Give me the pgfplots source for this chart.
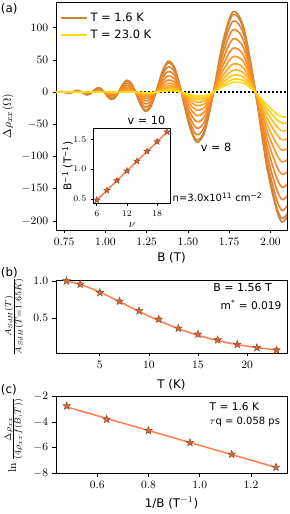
\documentclass[border=0pt]{standalone}
\usepackage[no-math]{fontspec}
\setmainfont{DejaVu Sans}
\usepackage{pgfplots}
\pgfplotsset{compat=1.18}
\usepackage{pgfplotstable}

\definecolor{c1}{RGB}{200,135,55}
\definecolor{c2}{RGB}{212,133,50}
\definecolor{c3}{RGB}{225,132,45}
\definecolor{c4}{RGB}{238,132,42}
\definecolor{c5}{RGB}{250,133,40}
\definecolor{c6}{RGB}{255,140,38}
\definecolor{c7}{RGB}{255,152,35}
\definecolor{c8}{RGB}{255,165,32}
\definecolor{c9}{RGB}{255,178,30}
\definecolor{c10}{RGB}{255,192,28}
\definecolor{c11}{RGB}{255,205,25}
\definecolor{c12}{RGB}{255,218,20}
\definecolor{fitc}{RGB}{255,127,80}
\definecolor{starf}{RGB}{214,110,60}
\definecolor{stard}{RGB}{150,70,40}

\pgfdeclareplotmark{fstar}{%
 \pgfpathmoveto{\pgfpointpolar{90}{\pgfplotmarksize}}%
 \pgfpathlineto{\pgfpointpolar{126}{0.4\pgfplotmarksize}}%
 \pgfpathlineto{\pgfpointpolar{162}{\pgfplotmarksize}}%
 \pgfpathlineto{\pgfpointpolar{198}{0.4\pgfplotmarksize}}%
 \pgfpathlineto{\pgfpointpolar{234}{\pgfplotmarksize}}%
 \pgfpathlineto{\pgfpointpolar{270}{0.4\pgfplotmarksize}}%
 \pgfpathlineto{\pgfpointpolar{306}{\pgfplotmarksize}}%
 \pgfpathlineto{\pgfpointpolar{342}{0.4\pgfplotmarksize}}%
 \pgfpathlineto{\pgfpointpolar{18}{\pgfplotmarksize}}%
 \pgfpathlineto{\pgfpointpolar{54}{0.4\pgfplotmarksize}}%
 \pgfpathclose\pgfusepathqfillstroke}

\pgfplotstableread{
B t1 t2 t3 t4 t5 t6 t7 t8 t9 t10 t11 t12
0.6992 -0.5 -0.4 -0.3 -0.1 -0.1 0 0 0 0 0 0 0
0.7091 0 0 0 0 0 0 0 0 0 0 0 0
0.7194 0.6 0.5 0.3 0.2 0.1 0 0 0 0 0 0 0
0.7300 1.0 0.8 0.5 0.3 0.2 0.1 0 0 0 0 0 0
0.7409 0.8 0.7 0.4 0.2 0.1 0.1 0 0 0 0 0 0
0.7521 0 0 0 0 0 0 0 0 0 0 0 0
0.7637 -1.0 -0.9 -0.6 -0.3 -0.2 -0.1 0 0 0 0 0 0
0.7756 -1.7 -1.4 -0.9 -0.5 -0.3 -0.2 0 0 0 0 0 0
0.7879 -1.3 -1.1 -0.7 -0.4 -0.2 -0.1 0 0 0 0 0 0
0.8006 0 0 0 0 0 0 0 0 0 0 0 0
0.8138 1.7 1.4 1.0 0.6 0.3 0.2 0.1 0 0 0 0 0
0.8273 2.7 2.3 1.6 1.0 0.6 0.3 0.2 0.1 0 0 0 0
0.8414 2.2 1.8 1.3 0.8 0.5 0.3 0.1 0.1 0 0 0 0
0.8559 0 0 0 0 0 0 0 0 0 0 0 0
0.8709 -2.7 -2.4 -1.7 -1.1 -0.7 -0.4 -0.2 -0.1 0 0 0 0
0.8864 -4.4 -3.8 -2.7 -1.8 -1.1 -0.6 -0.4 -0.2 -0.1 0 0 0
0.9025 -3.5 -3.0 -2.2 -1.5 -0.9 -0.5 -0.3 -0.2 -0.1 0 0 0
0.9193 0 0 0 0 0 0 0 0 0 0 0 0
0.9366 4.4 3.9 2.9 2.0 1.2 0.8 0.4 0.3 0.1 0 0 0
0.9546 7.1 6.2 4.7 3.2 2.1 1.3 0.7 0.4 0.2 0.1 0.1 0
0.9733 5.6 5.0 3.8 2.6 1.7 1.1 0.6 0.4 0.2 0.1 0.1 0
0.9928 0 0 0 0 0 0 0 0 0 0 0 0
1.0131 -7.2 -6.4 -5.0 -3.5 -2.4 -1.5 -0.9 -0.6 -0.3 -0.2 -0.1 -0.1
1.0342 -11.4 -10.3 -8.0 -5.8 -3.9 -2.5 -1.6 -1.0 -0.6 -0.3 -0.2 -0.1
1.0562 -9.1 -8.2 -6.5 -4.7 -3.2 -2.1 -1.3 -0.8 -0.5 -0.3 -0.2 -0.1
1.0791 0 0 0 0 0 0 0 0 0 0 0 0
1.1031 11.6 10.6 8.5 6.3 4.4 3.0 1.9 1.2 0.8 0.5 0.3 0.2
1.1282 18.4 16.9 13.7 10.3 7.3 4.9 3.2 2.1 1.3 0.8 0.5 0.3
1.1544 14.7 13.5 11.1 8.4 6.0 4.1 2.8 1.8 1.2 0.7 0.5 0.3
1.1819 0 0 0 0 0 0 0 0 0 0 0 0
1.2107 -18.7 -17.3 -14.4 -11.2 -8.2 -5.8 -4.0 -2.7 -1.8 -1.1 -0.7 -0.5
1.2410 -29.8 -27.7 -23.2 -18.2 -13.5 -9.7 -6.7 -4.5 -3.0 -2.0 -1.3 -0.8
1.2728 -23.8 -22.1 -18.7 -14.8 -11.2 -8.1 -5.7 -3.9 -2.7 -1.8 -1.2 -0.8
1.3063 0 0 0 0 0 0 0 0 0 0 0 0
1.3416 30.2 28.3 24.3 19.7 15.2 11.3 8.1 5.7 4.0 2.7 1.9 1.2
1.3789 48.1 45.3 39.2 32.0 25.0 18.8 13.7 9.8 6.9 4.8 3.3 2.2
1.4183 38.3 36.2 31.6 26.1 20.6 15.6 11.6 8.4 6.0 4.2 2.9 2.0
1.4600 0 0 0 0 0 0 0 0 0 0 0 0
1.5042 -48.7 -46.3 -40.9 -34.4 -27.8 -21.7 -16.4 -12.2 -8.9 -6.5 -4.6 -3.2
1.5513 -77.6 -74.0 -65.9 -56.0 -45.7 -36.1 -27.7 -20.8 -15.4 -11.3 -8.2 -5.9
1.6013 -61.8 -59.1 -53.0 -45.4 -37.5 -29.9 -23.3 -17.8 -13.3 -9.9 -7.3 -5.3
1.6547 0 0 0 0 0 0 0 0 0 0 0 0
1.7117 78.5 75.5 68.6 59.8 50.4 41.2 32.9 25.7 19.8 15.0 11.3 8.5
1.7729 125.0 120.5 110.3 97.1 82.5 68.2 55.1 43.6 34.0 26.2 20.0 15.3
1.8385 99.6 96.3 88.7 78.6 67.5 56.5 46.2 37.1 29.3 22.8 17.6 13.6
1.9092 0 0 0 0 0 0 0 0 0 0 0 0
1.9856 -126.5 -122.8 -114.4 -103.0 -90.3 -77.2 -64.6 -53.2 -43.1 -34.5 -27.3 -21.4
2.0683 -201.5 -196.1 -183.7 -166.7 -147.5 -127.5 -108.0 -89.8 -73.8 -59.8 -48.0 -38.2
2.1583 -160.5 -156.6 -147.4 -134.8 -120.3 -105.1 -90.0 -75.9 -63.0 -51.8 -42.1 -34.0
}\rhodata

\begin{document}
\begin{tikzpicture}
\path[use as bounding box] (0pt,0pt) rectangle (231.2pt,411.2pt);
\pgfplotsset{
  every axis/.append style={
    scale only axis, anchor=south west,
    axis line style={line width=0.6pt},
    tick align=outside, tick pos=left,
    major tick length=2.8pt,
    every tick/.style={black, line width=0.6pt},
    tick label style={font=\fontsize{9}{10}\selectfont},
    label style={font=\fontsize{9.5}{11}\selectfont},
    scaled ticks=false,
  },
  fitline/.style={fitc, line width=1.2pt},
  starmk/.style={only marks, mark=fstar, mark size=3.2pt, mark options={fill=starf, draw=stard, line width=0.4pt}},
}

% ---------- panel (a)
\begin{axis}[at={(44.8pt,227.2pt)}, width=184.8pt, height=182.4pt,
  xmin=0.70, xmax=2.10, ymin=-214, ymax=140,
  xtick={0.75,1.0,1.25,1.5,1.75,2.0},
  ytick={-200,-150,-100,-50,0,50,100},
  xticklabel style={/pgf/number format/fixed, /pgf/number format/precision=2, /pgf/number format/fixed zerofill},
  xlabel={B (T)}, ylabel={$\Delta\rho_{xx}(\Omega)$},
  xlabel style={at={(axis description cs:0.5,-0.123)}, anchor=center},
  ylabel style={at={(axis description cs:-0.208,0.5)}, anchor=center},
  legend style={at={(axis description cs:0,1)}, anchor=north west, xshift=2pt, yshift=-5.4pt,
     draw=none, fill=none, font=\fontsize{9.2}{11}\selectfont, row sep=1.5pt, inner sep=1pt},
  legend cell align=left,
  legend image code/.code={\draw[#1,line width=1.6pt] (0pt,0pt) -- (20.8pt,0pt);},
]
\addplot[forget plot, black, line width=1.6pt, dash pattern=on 1.6pt off 1.6pt] coordinates {(0.70,0) (2.10,0)};
\addplot[smooth, c1, line width=1.3pt] table[x=B,y=t1]{\rhodata};
\addlegendentry{T = 1.6 K}
\addplot[forget plot, smooth, c2, line width=1.3pt] table[x=B,y=t2]{\rhodata};
\addplot[forget plot, smooth, c3, line width=1.3pt] table[x=B,y=t3]{\rhodata};
\addplot[forget plot, smooth, c4, line width=1.3pt] table[x=B,y=t4]{\rhodata};
\addplot[forget plot, smooth, c5, line width=1.3pt] table[x=B,y=t5]{\rhodata};
\addplot[forget plot, smooth, c6, line width=1.3pt] table[x=B,y=t6]{\rhodata};
\addplot[forget plot, smooth, c7, line width=1.3pt] table[x=B,y=t7]{\rhodata};
\addplot[forget plot, smooth, c8, line width=1.3pt] table[x=B,y=t8]{\rhodata};
\addplot[forget plot, smooth, c9, line width=1.3pt] table[x=B,y=t9]{\rhodata};
\addplot[forget plot, smooth, c10, line width=1.3pt] table[x=B,y=t10]{\rhodata};
\addplot[forget plot, smooth, c11, line width=1.3pt] table[x=B,y=t11]{\rhodata};
\addplot[smooth, c12, line width=1.3pt] table[x=B,y=t12]{\rhodata};
\addlegendentry{T = 23.0 K}
\node[font=\fontsize{9}{11}\selectfont, anchor=center] at (axis cs:1.248,-43.5) {v = 10};
\node[font=\fontsize{9}{11}\selectfont, anchor=center] at (axis cs:1.670,-85) {v = 8};
\node[font=\fontsize{8}{10}\selectfont, anchor=west, inner sep=0pt] at (axis cs:1.406,-163.3) {n=3.0x10\textsuperscript{11} cm\textsuperscript{−2}};
\end{axis}

% ---------- inset
\begin{axis}[at={(74.64pt,248.4pt)}, width=61.9pt, height=59.9pt,
  axis background/.style={fill=white},
  xmin=5.3, xmax=20.7, ymin=0.423, ymax=1.677,
  xtick={6,12,18}, ytick={0.5,1.0,1.5},
  tick label style={font=\fontsize{7}{8}\selectfont},
  yticklabel style={/pgf/number format/fixed, /pgf/number format/precision=1, /pgf/number format/fixed zerofill},
  major tick length=2pt,
  xlabel={$\nu$}, ylabel={B\textsuperscript{−1} (T\textsuperscript{−1})},
  xlabel style={at={(axis description cs:0.5,-0.287)}, anchor=center, font=\fontsize{9}{10}\selectfont},
  ylabel style={at={(axis description cs:-0.333,0.5)}, anchor=center, font=\fontsize{8.5}{10}\selectfont},
]
\addplot[fitline] coordinates {(6,0.481) (8,0.644) (10,0.807) (12,0.970) (14,1.133) (16,1.296) (18,1.459) (20,1.622)};
\addplot[starmk, mark size=2.6pt] coordinates {(6,0.481) (8,0.644) (10,0.807) (12,0.970) (14,1.133) (16,1.296) (18,1.459) (20,1.622)};
\end{axis}

% ---------- panel (b)
\begin{axis}[at={(44.8pt,128.8pt)}, width=184.8pt, height=58.4pt,
  xmin=0.53, xmax=24.07, ymin=0.035, ymax=1.013,
  xtick={5,10,15,20}, ytick={0.5,1.0},
  yticklabel style={/pgf/number format/fixed, /pgf/number format/precision=1, /pgf/number format/fixed zerofill},
  xlabel={T (K)}, ylabel={$\frac{A_{SdH}(T)}{A_{SdH}(T=1.65K)}$},
  xlabel style={at={(axis description cs:0.5,-0.438)}, anchor=center},
  ylabel style={at={(axis description cs:-0.182,0.5)}, anchor=center},
]
\addplot[fitline, smooth] coordinates {(1.6,1.0) (3,0.954) (5,0.851) (7,0.724) (9,0.592) (11,0.468) (13,0.360) (15,0.272) (17,0.201) (19,0.148) (21,0.107) (23,0.0765)};
\addplot[starmk] coordinates {(1.6,1.0) (3,0.956) (5,0.843) (7,0.728) (9,0.598) (11,0.487) (13,0.366) (15,0.286) (17,0.210) (19,0.151) (21,0.106) (23,0.075)};
\node[font=\fontsize{8.8}{11}\selectfont, anchor=west, inner sep=0pt] at (axis cs:16.55,0.910) {B = 1.56 T};
\node[font=\fontsize{8.5}{11}\selectfont, anchor=west, inner sep=0pt] at (axis cs:17.29,0.678) {m\textsuperscript{*} = 0.019};
\end{axis}

% ---------- panel (c)
\begin{axis}[at={(44.8pt,32.56pt)}, width=184.8pt, height=61.3pt,
  xmin=0.439, xmax=1.341, ymin=-8, ymax=-2,
  xtick={0.6,0.8,1.0,1.2}, ytick={-8,-6,-4,-2},
  xticklabel style={/pgf/number format/fixed, /pgf/number format/precision=1, /pgf/number format/fixed zerofill},
  xlabel={1/B (T$^{-1}$)}, ylabel={$\ln\frac{\Delta\rho_{xx}}{(4\rho_{xx}f(B,T))}$},
  xlabel style={at={(axis description cs:0.5,-0.388)}, anchor=center},
  ylabel style={at={(axis description cs:-0.182,0.5)}, anchor=center},
]
\addplot[fitline] coordinates {(0.481,-2.80) (1.298,-7.54)};
\addplot[starmk] coordinates {(0.481,-2.73) (0.637,-3.77) (0.800,-4.66) (0.962,-5.60) (1.125,-6.51) (1.298,-7.53)};
\node[font=\fontsize{8.5}{11}\selectfont, anchor=west, inner sep=0pt] at (axis cs:1.038,-2.81) {T = 1.6 K};
\node[font=\fontsize{8}{10}\selectfont, anchor=west, inner sep=0pt] at (axis cs:1.038,-4.0) {$\tau$q = 0.058 ps};
\end{axis}

\node[anchor=west, inner sep=0pt, font=\fontsize{9.5}{11}\selectfont] at (0.5pt,404pt) {(a)};
\node[anchor=west, inner sep=0pt, font=\fontsize{9.5}{11}\selectfont] at (0.5pt,192.6pt) {(b)};
\node[anchor=west, inner sep=0pt, font=\fontsize{9.5}{11}\selectfont] at (0.5pt,99.2pt) {(c)};
\end{tikzpicture}
\end{document}
